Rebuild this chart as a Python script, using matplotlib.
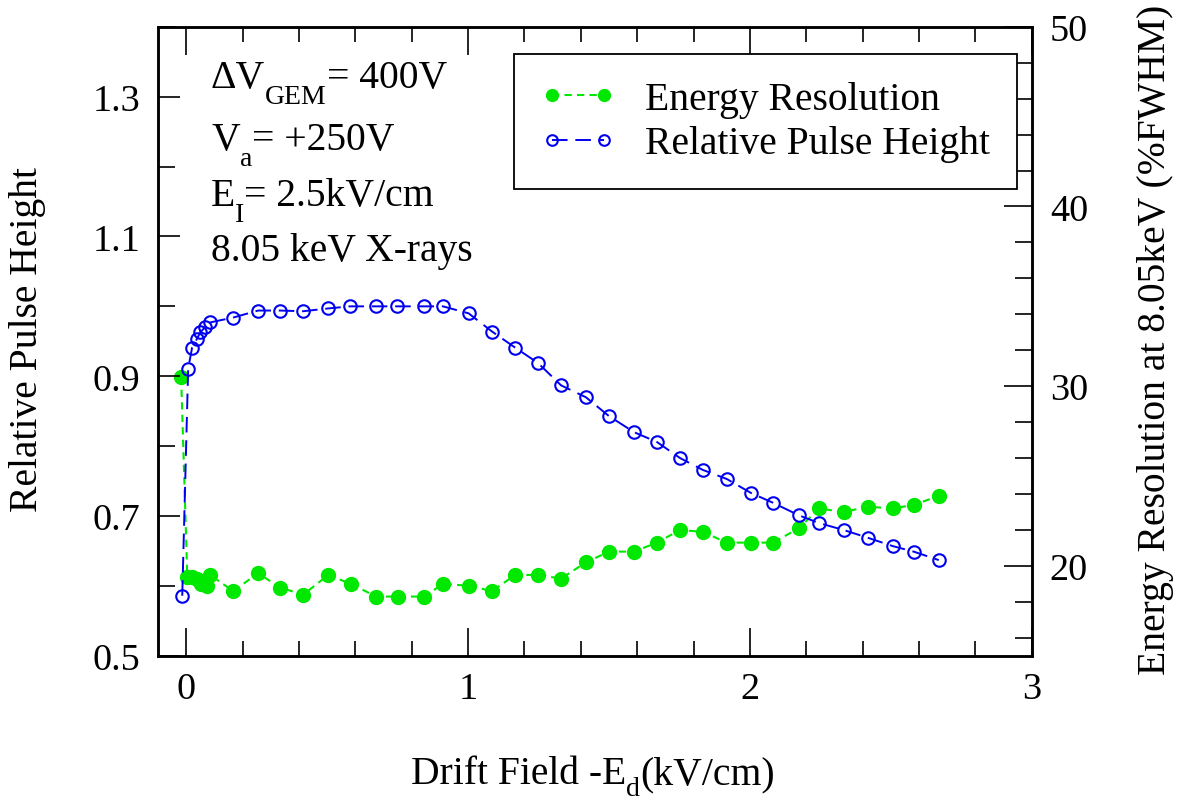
import numpy as np
import matplotlib
matplotlib.use("Agg")
import matplotlib.pyplot as plt
from matplotlib.ticker import MultipleLocator

plt.rcParams['font.family'] = ['Liberation Serif', 'DejaVu Serif']

# Relative pulse height (left axis)
campo_ph = [-0.014, 0.007, 0.021, 0.039, 0.050, 0.067, 0.085, 0.167, 0.255, 0.333,
            0.415, 0.504, 0.582, 0.674, 0.748, 0.844, 0.911, 1.002, 1.085, 1.167,
            1.248, 1.330, 1.418, 1.500, 1.589, 1.670, 1.752, 1.833, 1.918, 2.004,
            2.082, 2.174, 2.245, 2.333, 2.418, 2.507, 2.582, 2.670]
pulse_height = [0.586, 0.911, 0.941, 0.954, 0.963, 0.970, 0.977, 0.984, 0.994, 0.994,
                0.993, 0.997, 1.000, 1.000, 1.000, 1.000, 1.000, 0.990, 0.964, 0.941,
                0.919, 0.887, 0.870, 0.843, 0.820, 0.806, 0.783, 0.766, 0.753, 0.733,
                0.719, 0.701, 0.690, 0.680, 0.669, 0.657, 0.649, 0.637]

# Energy resolution (right axis, %FWHM)
campo_er = [-0.018, 0.004, 0.021, 0.039, 0.053, 0.074, 0.085, 0.167, 0.255, 0.333,
            0.415, 0.504, 0.585, 0.674, 0.752, 0.844, 0.911, 1.004, 1.085, 1.167,
            1.248, 1.330, 1.418, 1.500, 1.589, 1.670, 1.752, 1.833, 1.918, 2.004,
            2.082, 2.174, 2.245, 2.333, 2.418, 2.507, 2.582, 2.670]
resolucao = [30.5, 19.4, 19.4, 19.3, 19.0, 18.9, 19.5, 18.6, 19.6, 18.8,
             18.4, 19.5, 19.0, 18.3, 18.3, 18.3, 19.0, 18.9, 18.6, 19.5,
             19.5, 19.3, 20.2, 20.8, 20.8, 21.3, 22.0, 21.9, 21.3, 21.3,
             21.3, 22.1, 23.2, 23.0, 23.3, 23.2, 23.4, 23.9]

verde = '#00e800'
azul = '#0000f0'
fs = 28.5     # textos
fs_tick = 27.5
W, H = 1188, 804

fig = plt.figure(figsize=(W / 100, H / 100), dpi=100)
ax = fig.add_axes([0.133, 0.183, 0.7355, 0.7825])
ax2 = ax.twinx()

l2, = ax2.plot(campo_er, resolucao, color=verde, lw=1.5, dashes=(3.5, 2.5),
               marker='o', ms=10, mec=verde, mfc=verde, label='Energy Resolution')
l1, = ax.plot(campo_ph, pulse_height, color=azul, lw=1.4, dashes=(8, 4),
              marker='o', ms=9, mec=azul, mfc='none', mew=1.5, label='Relative Pulse Height')
ax.set_zorder(ax2.get_zorder() + 1)
ax.patch.set_visible(False)

ax.set_xlim(-0.1, 3)
ax.set_ylim(0.5, 1.4)
ax2.set_ylim(15, 50)

ax.xaxis.set_major_locator(MultipleLocator(1))
ax.xaxis.set_minor_locator(MultipleLocator(0.2))
ax.yaxis.set_minor_locator(MultipleLocator(0.1))
ax2.yaxis.set_major_locator(MultipleLocator(10))
ax2.yaxis.set_minor_locator(MultipleLocator(2))
ax.set_yticks([0.5, 0.7, 0.9, 1.1, 1.3])
ax.set_yticklabels(['0.5', '0.7', '0.9', '1.1', '1.3'])

ax.tick_params(axis='x', which='both', direction='in', top=True, labelsize=fs_tick, pad=11, width=1.2)
ax.tick_params(axis='x', which='major', length=20)
ax.tick_params(axis='x', which='minor', length=11)
ax.tick_params(axis='y', which='both', direction='in', right=False, labelsize=fs_tick, pad=13, width=1.2)
ax.tick_params(axis='y', which='major', length=16)
ax.tick_params(axis='y', which='minor', length=12)
ax2.tick_params(axis='y', which='both', direction='in', labelsize=fs_tick, pad=13, width=1.2)
ax2.tick_params(axis='y', which='major', length=20)
ax2.tick_params(axis='y', which='minor', length=12)

for a in (ax, ax2):
    for s in a.spines.values():
        s.set_linewidth(1.8)

renderer = fig.canvas.get_renderer()


def escreve(x_px, y_px, pedacos, centro=False, desce=16):
    # texto com subscritos estilo gnuplot (grandes e bem abaixo da linha)
    textos = []
    x = x_px
    for txt, sub in pedacos:
        t = fig.text(x / W, 1 - (y_px + (desce if sub else 0)) / H, txt,
                     fontsize=fs * 0.7 if sub else fs, va='baseline')
        x = t.get_window_extent(renderer).x1
        textos.append(t)
    if centro:
        desloc = (x - x_px) / 2 / W
        for t in textos:
            px, py = t.get_position()
            t.set_position((px - desloc, py))


# Rótulos dos eixos
escreve(593, 784, [('Drift Field -E', False), ('d', True), ('(kV/cm)', False)],
        centro=True, desce=12)
fig.text(28 / W, 1 - 340 / H, 'Relative Pulse Height', fontsize=fs,
         rotation=90, ha='center', va='center')
fig.text(1155 / W, 1 - 340 / H, 'Energy Resolution at 8.05keV (%FWHM)', fontsize=fs,
         rotation=90, ha='center', va='center')

# Condições de operação
escreve(211, 88, [('\u0394V', False), ('GEM', True), ('= 400V', False)])
escreve(211, 150, [('V', False), ('a', True), ('= +250V', False)])
escreve(211, 206, [('E', False), ('I', True), ('= 2.5kV/cm', False)])
escreve(211, 261, [('8.05 keV X-rays', False)])

leg = ax.legend(handles=[l2, l1], loc='upper left', bbox_to_anchor=(0.407, 0.956),
                borderaxespad=0, fontsize=fs, frameon=True, fancybox=False,
                framealpha=1, edgecolor='black', handlelength=1.92, handletextpad=0.75,
                labelspacing=0.2, borderpad=0.66, markerscale=0.85, numpoints=2)
leg.get_frame().set_linewidth(1.3)

plt.savefig('out.png', dpi=100)
